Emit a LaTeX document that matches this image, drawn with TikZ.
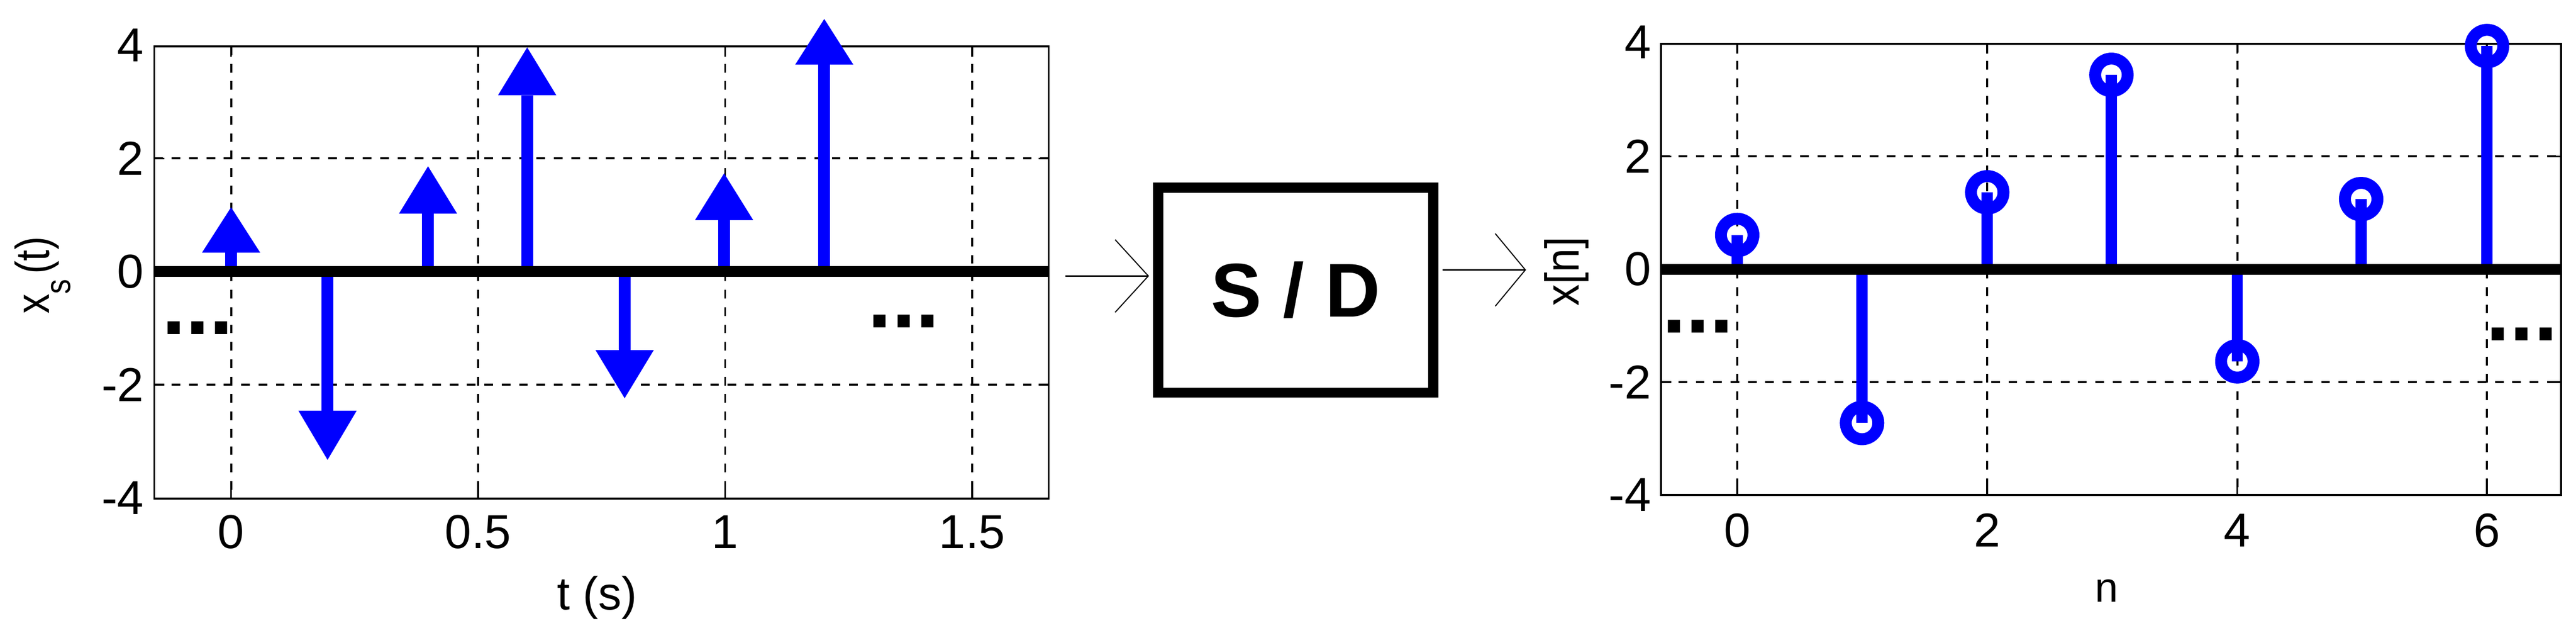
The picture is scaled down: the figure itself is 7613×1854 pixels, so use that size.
\documentclass[tikz,border=0pt]{standalone}
\usepackage{fontspec}
\setmainfont{Liberation Sans}
\usepackage{graphicx}
\usetikzlibrary{arrows.meta}
\definecolor{mblue}{RGB}{0,0,255}
\begin{document}
\begin{tikzpicture}[x=0.01cm, y=-0.01cm,
  gridl/.style={line width=1.7pt, dash pattern=on 7.3pt off 7.3pt},
  axbox/.style={line width=1.6pt},
  tickl/.style={line width=1.6pt},
  zerol/.style={line width=9pt},
  stemb/.style={mblue, line width=10pt},
  stemr/.style={mblue, line width=9.4pt},
  ring/.style={mblue, line width=10pt},
  ticklab/.style={font=\fontsize{40pt}{48pt}\selectfont, inner sep=0pt},
  dotsl/.style={font=\bfseries\fontsize{72pt}{80pt}\selectfont, inner sep=0pt, anchor=base},
  conn/.style={line width=1.4pt},
]
\useasboundingbox (0,0) rectangle (7613,1854);

% ===== left plot =====
\foreach \x in {683,1413,2143,2873} \draw[gridl] (\x,137) -- (\x,1472);
\foreach \y in {468,1136} \draw[gridl] (456,\y) -- (3099,\y);
\foreach \x in {683,1413,2143,2873} {
  \draw[tickl] (\x,1472) -- (\x,1442);
  \draw[tickl] (\x,137) -- (\x,167);
}
\foreach \y in {468,802,1136} {
  \draw[tickl] (456,\y) -- (486,\y);
  \draw[tickl] (3099,\y) -- (3069,\y);
}
\draw[axbox] (456,137) rectangle (3099,1472);
\foreach \x/\b/\t in {683/746/612, 968/1213/1358, 1265/631/491, 1558/281/140, 1846/1034/1176, 2140/650/512, 2436/191/56} {
  \draw[stemb] (\x,802) -- (\x,\b);
  \fill[mblue] (\x-86,\b) -- (\x+86,\b) -- (\x,\t) -- cycle;
}
\draw[zerol] (456,802) -- (3099,802);
\node[dotsl] (ldl) at (584,988) {...};
\node[dotsl] (ldr) at (2671,968) {...};
\foreach \y/\l [count=\i] in {134/4, 468/2, 802/0, 1136/-2, 1470/-4}
  \node[ticklab, anchor=east] (lyt\i) at (426,\y) {\l};
\foreach \x/\l [count=\i] in {683/0, 1413/0.5, 2143/1, 2873/1.5}
  \node[ticklab] (lxt\i) at (\x,1571) {\l};
\node[font=\fontsize{39pt}{46pt}\selectfont, inner sep=0pt, anchor=base] (lxl) at (1764,1801) {t (s)};
\node[rotate=90, anchor=base, inner sep=0pt, font=\fontsize{40pt}{48pt}\selectfont] (lyl) at (146,813)
  {\scalebox{0.83}[1]{x\raisebox{-17.5pt}{\fontsize{30pt}{36pt}\selectfont s}\hspace{5pt}(t)}};

% ===== S/D block =====
\node[draw, line width=8.5pt, minimum width=8.13cm, minimum height=6.05cm, inner sep=0pt,
      font=\bfseries\fontsize{64pt}{72pt}\selectfont] (sd) at (3829.5,856.5) {S / D};
\coordinate (cin) at (3149,815);
\coordinate (cout) at (4510,797);
\draw[conn, -{Straight Barb[length=27.9pt, width=61pt, line width=0.9pt]}, shorten >=3.4pt] (cin) -- (sd.west |- cin);
\draw[conn, -{Straight Barb[length=25.3pt, width=61pt, line width=0.9pt]}, shorten <=3.4pt] (sd.east |- cout) -- (cout);

% ===== right plot =====
\foreach \x in {5134,5873,6612,7350} \draw[gridl] (\x,129) -- (\x,1462);
\foreach \y in {462,1128} \draw[gridl] (4909,\y) -- (7569,\y);
\foreach \x in {5134,5873,6612,7350} {
  \draw[tickl] (\x,1462) -- (\x,1432);
  \draw[tickl] (\x,129) -- (\x,159);
}
\foreach \y in {462,795,1128} {
  \draw[tickl] (4909,\y) -- (4939,\y);
  \draw[tickl] (7569,\y) -- (7539,\y);
}
\draw[axbox] (4909,129) rectangle (7569,1462);
\foreach \x/\v in {5134/694, 5503/1249, 5873/568, 6240/221, 6612/1067, 6978/588, 7350/136}
  \draw[stemr] (\x,795) -- (\x,\v);
\draw[zerol] (4909,795) -- (7569,795);
\foreach \x/\v in {5134/694, 5503/1249, 5873/568, 6240/221, 6612/1067, 6978/588, 7350/136}
  \draw[ring] (\x,\v) circle[radius=0.48cm];
\node[dotsl] (rdl) at (5018,983) {...};
\node[dotsl] (rdr) at (7453,1006) {...};
\foreach \y/\l [count=\i] in {124/4, 462/2, 795/0, 1128/-2, 1461/-4}
  \node[ticklab, anchor=east] (ryt\i) at (4880,\y) {\l};
\foreach \x/\l [count=\i] in {5134/0, 5873/2, 6612/4, 7350/6}
  \node[ticklab] (rxt\i) at (\x,1566) {\l};
\node[font=\fontsize{35pt}{42pt}\selectfont, inner sep=0pt, anchor=base] (rxl) at (6226,1777) {n};
\node[rotate=90, anchor=base, inner sep=0pt, font=\fontsize{40pt}{48pt}\selectfont] (ryl) at (4666,801)
  {\scalebox{0.9}[1]{x[n]}};
\end{tikzpicture}
\end{document}
